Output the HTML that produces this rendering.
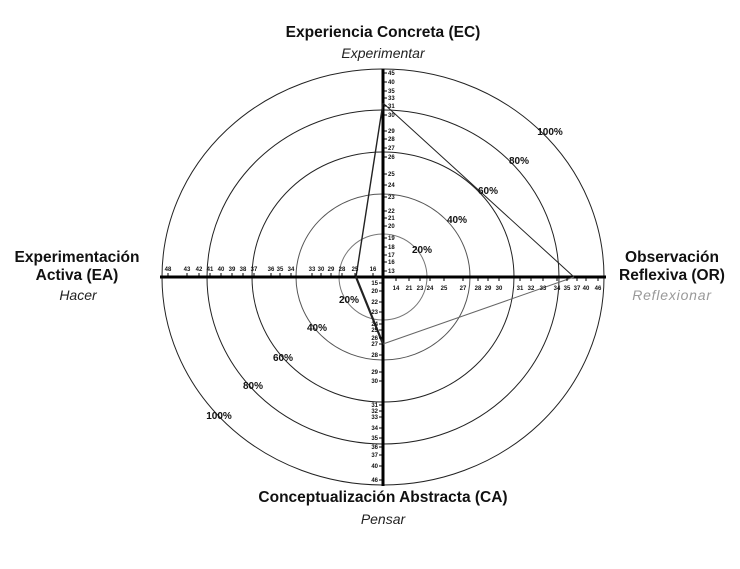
<!DOCTYPE html>
<html><head><meta charset="utf-8"><style>
html,body{margin:0;padding:0;background:#fff;}
svg{display:block;font-family:"Liberation Sans",Arial,sans-serif;}
.t{font-size:6px;font-weight:bold;fill:#111;}
.p{font-size:10px;font-weight:bold;fill:#111;}
.h{font-size:15.5px;font-weight:bold;fill:#111;}
.i{font-size:14px;font-style:italic;fill:#222;}
</style></head><body>
<svg width="740" height="569" viewBox="0 0 740 569">
<g fill="none" stroke="#222" stroke-width="1">
<ellipse cx="383" cy="277" rx="221" ry="208"/>
<ellipse cx="383" cy="277" rx="176" ry="167"/>
<ellipse cx="383" cy="277" rx="131" ry="125"/>
<ellipse cx="383" cy="277" rx="87" ry="83" stroke="#555"/>
<ellipse cx="383" cy="277" rx="44" ry="43" stroke="#777"/>
</g>
<g stroke="#000">
<line x1="160" y1="277" x2="606" y2="277" stroke-width="3"/>
<line x1="383" y1="69" x2="383" y2="486" stroke-width="3"/>
</g>
<g stroke="#222" stroke-width="1" fill="none">
<line x1="383" y1="103" x2="574" y2="277"/>
<line x1="574" y1="277" x2="383" y2="344" stroke="#666"/>
<line x1="383" y1="344" x2="356" y2="277" stroke-width="2.2"/>
<line x1="356" y1="277" x2="383" y2="103" stroke-width="1.4"/>
</g>
<g stroke="#000" stroke-width="1">
<path d="M383 73h4M383 82h4M383 91h4M383 98h4M383 106h4M383 115h4M383 131h4M383 139h4M383 148h4M383 157h4M383 174h4M383 185h4M383 197h4M383 211h4M383 218h4M383 226h4M383 238h4M383 247h4M383 255h4M383 262h4M383 271h4"/>
<path d="M379 283h4M379 291h4M379 302h4M379 312h4M379 324h4M379 330h4M379 338h4M379 344h4M379 355h4M379 372h4M379 381h4M379 405h4M379 411h4M379 417h4M379 428h4M379 438h4M379 447h4M379 455h4M379 466h4M379 480h4"/>
<path d="M168 273v4M187 273v4M199 273v4M210 273v4M221 273v4M232 273v4M243 273v4M254 273v4M271 273v4M280 273v4M291 273v4M312 273v4M321 273v4M331 273v4M342 273v4M355 273v4M373 273v4"/>
<path d="M396 277v4M409 277v4M420 277v4M430 277v4M444 277v4M463 277v4M478 277v4M488 277v4M499 277v4M520 277v4M531 277v4M543 277v4M557 277v4M567 277v4M577 277v4M586 277v4M598 277v4"/>
</g>
<g class="t">
<text x="388" y="75">45</text><text x="388" y="84">40</text><text x="388" y="93">35</text><text x="388" y="100">33</text><text x="388" y="108">31</text><text x="388" y="117">30</text><text x="388" y="133">29</text><text x="388" y="141">28</text><text x="388" y="150">27</text><text x="388" y="159">26</text><text x="388" y="176">25</text><text x="388" y="187">24</text><text x="388" y="199">23</text><text x="388" y="213">22</text><text x="388" y="220">21</text><text x="388" y="228">20</text><text x="388" y="240">19</text><text x="388" y="249">18</text><text x="388" y="257">17</text><text x="388" y="264">16</text><text x="388" y="273">13</text>
</g>
<g class="t" text-anchor="end">
<text x="378" y="285">15</text><text x="378" y="293">20</text><text x="378" y="304">22</text><text x="378" y="314">23</text><text x="378" y="326">24</text><text x="378" y="332">25</text><text x="378" y="340">26</text><text x="378" y="346">27</text><text x="378" y="357">28</text><text x="378" y="374">29</text><text x="378" y="383">30</text><text x="378" y="407">31</text><text x="378" y="413">32</text><text x="378" y="419">33</text><text x="378" y="430">34</text><text x="378" y="440">35</text><text x="378" y="449">36</text><text x="378" y="457">37</text><text x="378" y="468">40</text><text x="378" y="482">46</text>
</g>
<g class="t" text-anchor="middle">
<text x="168" y="271">48</text><text x="187" y="271">43</text><text x="199" y="271">42</text><text x="210" y="271">41</text><text x="221" y="271">40</text><text x="232" y="271">39</text><text x="243" y="271">38</text><text x="254" y="271">37</text><text x="271" y="271">36</text><text x="280" y="271">35</text><text x="291" y="271">34</text><text x="312" y="271">33</text><text x="321" y="271">30</text><text x="331" y="271">29</text><text x="342" y="271">28</text><text x="355" y="271">25</text><text x="373" y="271">16</text>
<text x="396" y="290">14</text><text x="409" y="290">21</text><text x="420" y="290">23</text><text x="430" y="290">24</text><text x="444" y="290">25</text><text x="463" y="290">27</text><text x="478" y="290">28</text><text x="488" y="290">29</text><text x="499" y="290">30</text><text x="520" y="290">31</text><text x="531" y="290">32</text><text x="543" y="290">33</text><text x="557" y="290">34</text><text x="567" y="290">35</text><text x="577" y="290">37</text><text x="586" y="290">40</text><text x="598" y="290">46</text>
</g>
<g class="p" text-anchor="middle">
<text x="550" y="135">100%</text><text x="519" y="164">80%</text><text x="488" y="194">60%</text><text x="457" y="223">40%</text><text x="422" y="253">20%</text>
<text x="349" y="303">20%</text><text x="317" y="331">40%</text><text x="283" y="361">60%</text><text x="253" y="389">80%</text><text x="219" y="419">100%</text>
</g>
<text class="h" x="383" y="37" text-anchor="middle">Experiencia Concreta (EC)</text>
<text class="i" x="383" y="58" text-anchor="middle">Experimentar</text>
<text class="h" x="383" y="502" text-anchor="middle">Conceptualización Abstracta (CA)</text>
<text class="i" x="383" y="524" text-anchor="middle">Pensar</text>
<g text-anchor="middle">
<text class="h" x="77" y="262">Experimentación</text>
<text class="h" x="77" y="280">Activa (EA)</text>
<text class="i" x="78" y="300">Hacer</text>
<text class="h" x="672" y="262">Observación</text>
<text class="h" x="672" y="280">Reflexiva (OR)</text>
<text class="i" x="672" y="300" style="fill:#999;letter-spacing:0.8px">Reflexionar</text>
</g>
</svg>
</body></html>
